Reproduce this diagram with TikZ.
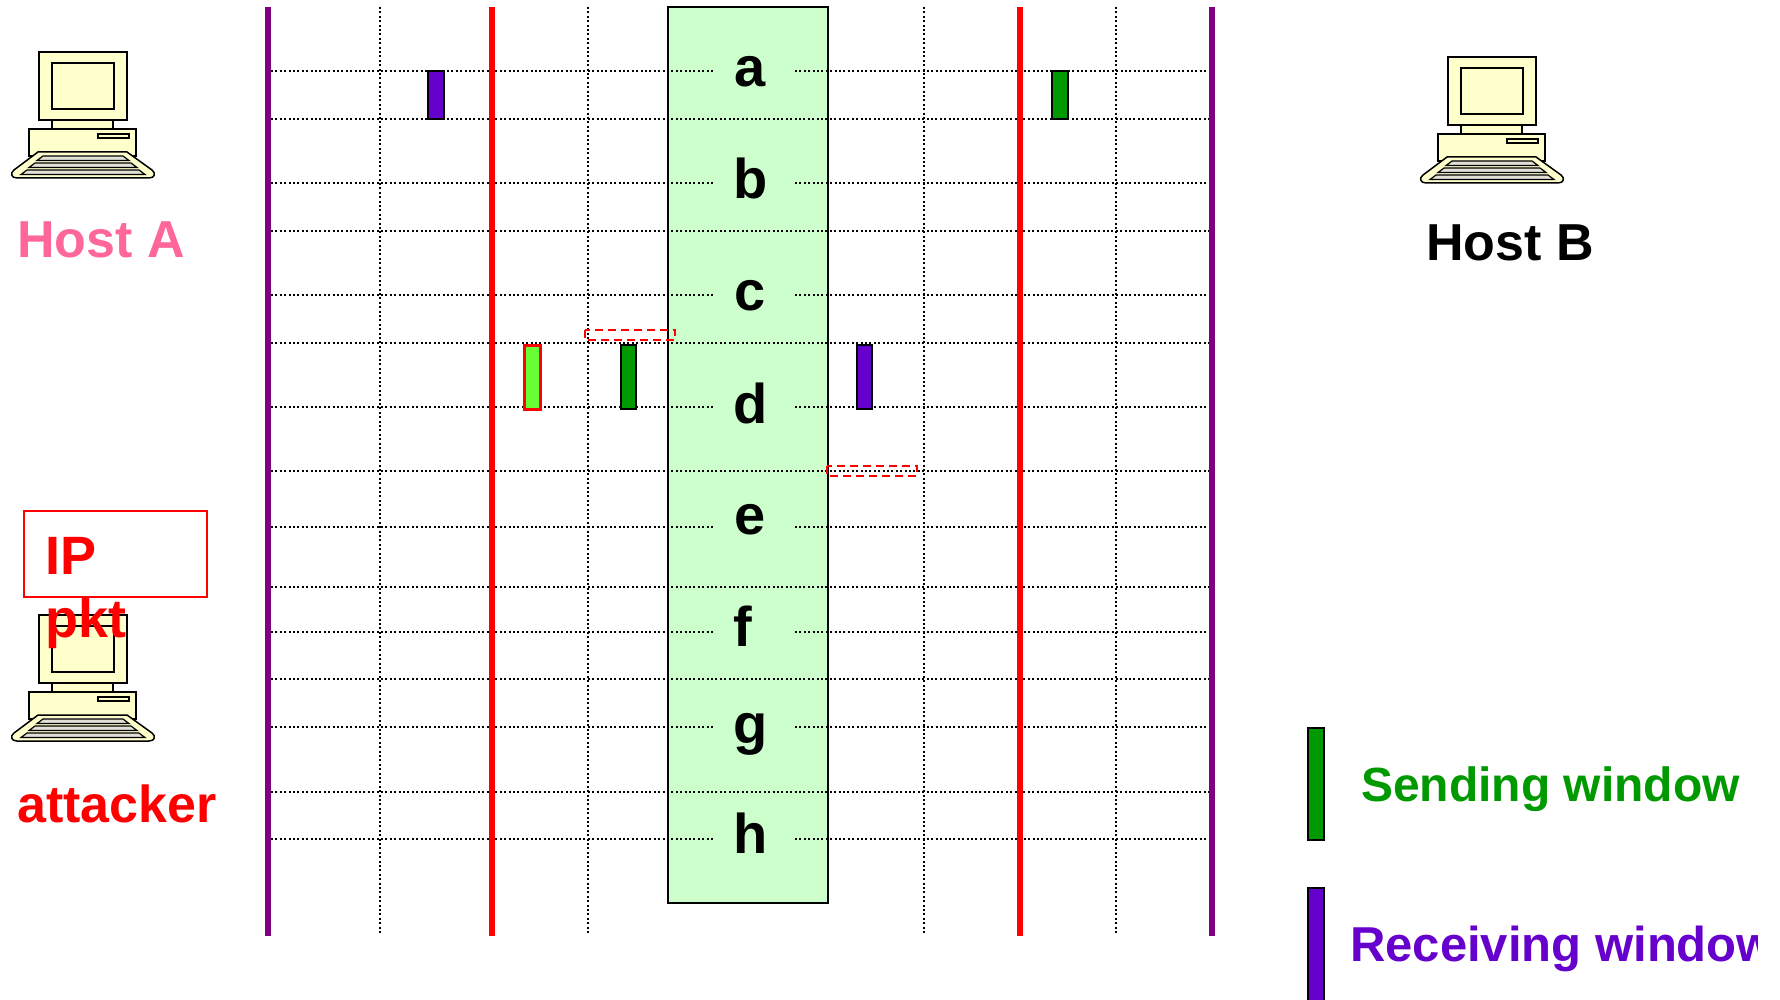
\documentclass[tikz,border=0pt]{standalone}
\usepackage{fontspec}
\setmainfont{Liberation Sans}
\definecolor{linepurple}{HTML}{800080}
\definecolor{winpurple}{HTML}{6600CC}
\definecolor{wingreen}{HTML}{009900}
\definecolor{lightwin}{HTML}{66FF33}
\definecolor{boxgreen}{HTML}{CCFFCC}
\definecolor{hostpink}{HTML}{FF6699}
\definecolor{pcyellow}{HTML}{FFFFCC}
\tikzset{
  gridline/.style={line width=2pt, dash pattern=on 2pt off 2.4pt, black},
  purpleline/.style={line width=6pt, linepurple},
  redline/.style={line width=6pt, red},
  winbox/.style={draw=black, line width=1.8pt},
  dashbox/.style={draw=red, line width=2.4pt, dash pattern=on 8pt off 5pt},
  letter/.style={font=\bfseries\fontsize{56}{60}\selectfont, inner sep=0pt, anchor=base},
  label/.style={font=\bfseries\fontsize{52}{60}\selectfont, inner sep=0pt, anchor=base west},
  legend/.style={font=\bfseries\fontsize{48}{58}\selectfont, inner sep=0pt, anchor=base west},
  computer/.pic={
    \draw[line width=1.5pt, fill=pcyellow] (0,0) rectangle (88,68);
    \draw[line width=1.5pt, fill=pcyellow] (13,11) rectangle (75,57);
    \draw[line width=1.5pt, fill=pcyellow] (13,68) rectangle (74,77);
    \draw[line width=1.5pt, fill=pcyellow] (-10,77) rectangle (97,104);
    \draw[line width=1.5pt, fill=pcyellow] (59,82) rectangle (90,86);
    \draw[line width=1.5pt, fill=pcyellow] (-1,100) -- (88,100) -- (113,118)
      .. controls (117,121) and (116,126) .. (110,126) -- (-22,126)
      .. controls (-28,126) and (-29,121) .. (-25,118) -- cycle;
    \draw[line width=1.2pt, fill=pcyellow!60!black!30] (4,104) -- (84,104) -- (90,108.5) -- (-2,108.5) -- cycle;
    \draw[line width=1.2pt, fill=pcyellow!60!black!30] (-4,111) -- (92,111) -- (98,115.5) -- (-10,115.5) -- cycle;
    \draw[line width=1.2pt, fill=pcyellow!60!black!30] (-12,118) -- (100,118) -- (106,122.5) -- (-18,122.5) -- cycle;
  }
}
\begin{document}
\begin{tikzpicture}[x=1pt,y=-1pt]
\useasboundingbox (0,0) rectangle (1780,1000);
% big green column
\draw[fill=boxgreen, line width=2pt] (668,7) rectangle (828,903);
% vertical dotted lines
\foreach \x in {380,588,924,1116} \draw[gridline] (\x,7) -- (\x,933);
% full horizontal lines
\foreach \y in {119,231,343,471,587,679,792} \draw[gridline] (271,\y) -- (1209,\y);
% letter rows (interrupted)
\foreach \y in {71,183,295,407,527,632,727,839} {
  \draw[gridline] (271,\y) -- (713,\y);
  \draw[gridline] (795,\y) -- (1209,\y);
}
\node[letter] (la) at (750,87) {a};
\node[letter] (lb) at (751,199) {b};
\node[letter] (lc) at (750,310) {c};
\node[letter] (ld) at (751,423) {d};
\node[letter] (le) at (750,534) {e};
\node[letter] (lf) at (743,646) {f};
\node[letter] (lg) at (751,743) {g};
\node[letter] (lh) at (751,853) {h};
% solid vertical lines
\draw[purpleline] (268,7) -- (268,936);
\draw[purpleline] (1212,7) -- (1212,936);
\draw[redline] (492,7) -- (492,936);
\draw[redline] (1020,7) -- (1020,936);
% windows
\draw[winbox, fill=winpurple] (428,71) rectangle (444,119);
\draw[winbox, fill=wingreen] (1052,71) rectangle (1068,119);
\draw[draw=red, line width=3pt, fill=lightwin] (524,345) rectangle (540,409);
\draw[winbox, fill=wingreen] (621,345) rectangle (636,409);
\draw[winbox, fill=winpurple] (857,345) rectangle (872,409);
\draw[dashbox] (585,330) rectangle (675,340);
\draw[dashbox] (827,466) rectangle (917,476);
% computers
\pic at (39,52) {computer};
\pic at (1448,57) {computer};
\pic at (39,615) {computer};
\node[label, text=hostpink] (hosta) at (17,258) {Host A};
\node[label, text=black] (hostb) at (1426,261) {Host B};
\node[label, text=red] (attacker) at (17,822) {attacker};
% IP pkt
\draw[red, line width=1.8pt] (24,511) rectangle (207,597);
\node[font=\bfseries\fontsize{54}{63}\selectfont, text=red, inner sep=0pt, anchor=base west, align=left] (ippkt) at (45,637) {IP\\pkt};
% legend
\draw[winbox, fill=wingreen] (1308,728) rectangle (1324,840);
\draw[winbox, fill=winpurple] (1308,888) rectangle (1324,1010);
\node[legend, text=wingreen] (send) at (1361,801) {Sending window};
\begin{scope}
\clip (0,0) rectangle (1757,1000);
\node[legend, font=\bfseries\fontsize{49}{58}\selectfont, text=winpurple] (recv) at (1350,961) {Receiving window};
\end{scope}
\end{tikzpicture}
\end{document}
